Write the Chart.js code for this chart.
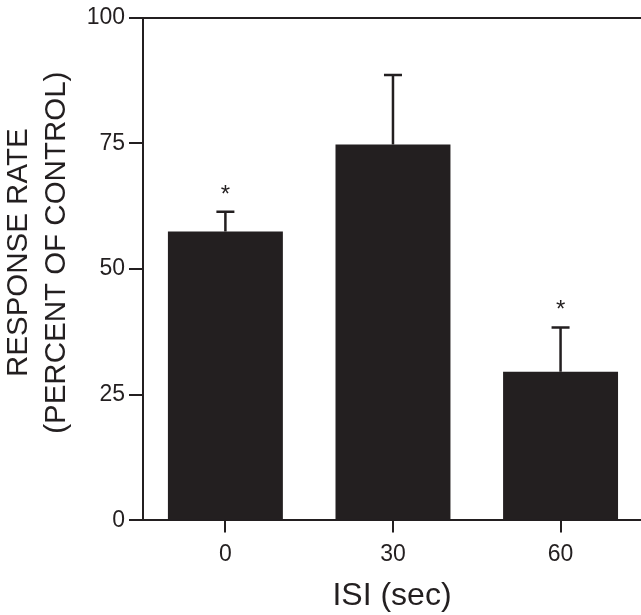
<!DOCTYPE html>
<html>
<head>
<meta charset="utf-8">
<script src="https://cdn.jsdelivr.net/npm/chart.js@4"></script>
<style>
  html, body { margin: 0; padding: 0; background: #ffffff; overflow: hidden; }
  canvas { display: block; }
</style>
</head>
<body>
<canvas id="c" width="641" height="615"></canvas>
<script>
// ---- data ----
const isiSeconds   = [0, 30, 60];            // x categories (ISI, sec)
const responseRate = [57.5, 74.8, 29.6];     // bar heights (% of control)
const errorTop     = [61.4, 88.6, 38.4];     // upper end of error bars
const significant  = [true, false, true];    // asterisk markers
const yTickValues  = [0, 25, 50, 75, 100];

const INK = '#231f20';
const FONT = '"Liberation Sans", Arial, Helvetica, sans-serif';

const errorBarPlugin = {
  id: 'errorBars',
  afterDatasetsDraw(chart) {
    const meta = chart.getDatasetMeta(0);
    const ys = chart.scales.y;
    const ctx = chart.ctx;
    ctx.save();
    ctx.strokeStyle = INK;
    ctx.fillStyle = INK;
    ctx.lineWidth = 2.5;
    meta.data.forEach((bar, i) => {
      const x = bar.x;
      const yTop = ys.getPixelForValue(errorTop[i]);
      const yBar = bar.y;
      ctx.beginPath();
      ctx.moveTo(x, yBar);
      ctx.lineTo(x, yTop);
      ctx.moveTo(x - 9, yTop);
      ctx.lineTo(x + 9, yTop);
      ctx.stroke();
      if (significant[i]) {
        ctx.font = '24px ' + FONT;
        ctx.textAlign = 'center';
        ctx.textBaseline = 'alphabetic';
        ctx.fillText('*', x, yTop - 10);
      }
    });
    ctx.restore();
  }
};

new Chart(document.getElementById('c'), {
  type: 'bar',
  data: {
    datasets: [{
      data: isiSeconds.map((v, i) => ({ x: v, y: responseRate[i] })),
      backgroundColor: INK,
      borderWidth: 0,
      barPercentage: 0.686,
      categoryPercentage: 1.0
    }]
  },
  options: {
    responsive: false,
    devicePixelRatio: 1,
    animation: false,
    layout: { padding: { top: 17.6, right: 0, bottom: 0, left: 0 } },
    plugins: {
      legend: { display: false },
      tooltip: { enabled: false }
    },
    scales: {
      x: {
        type: 'linear',
        offset: false,
        min: -14.75,
        max: 74.4,
        afterBuildTicks(scale) { scale.ticks = isiSeconds.map(v => ({ value: v })); },
        afterFit(scale) { scale.height = 94.6; },
        border: { display: true, color: INK, width: 2 },
        grid: {
          offset: false,
          drawOnChartArea: false,
          drawTicks: true,
          tickLength: 12,
          tickColor: INK,
          lineWidth: 2,
          color: INK
        },
        ticks: {
          color: INK,
          font: { family: FONT, size: 23 },
          padding: 8,
          maxRotation: 0,
          callback: (v) => String(v)
        },
        title: {
          display: true,
          text: 'ISI (sec)',
          color: INK,
          font: { family: FONT, size: 32 },
          padding: { top: 0, bottom: 0 }
        }
      },
      y: {
        min: 0,
        max: 100,
        afterBuildTicks(scale) { scale.ticks = yTickValues.map(v => ({ value: v })); },
        afterFit(scale) { scale.width = 143; },
        border: { display: true, color: INK, width: 2 },
        grid: {
          drawOnChartArea: true,
          drawTicks: true,
          tickLength: 14,
          tickColor: INK,
          lineWidth: 2,
          color: (c) => (c.tick && c.tick.value === 100 ? INK : 'rgba(0,0,0,0)')
        },
        ticks: {
          color: INK,
          font: { family: FONT, size: 23 },
          padding: 4,
          callback: (v) => String(v)
        },
        title: {
          display: true,
          text: ['    RESPONSE RATE', '    (PERCENT OF CONTROL)'],
          color: INK,
          font: { family: FONT, size: 29.5, lineHeight: 1.288 },
          padding: { top: 0, bottom: 0 }
        }
      }
    }
  },
  plugins: [errorBarPlugin]
});
</script>
</body>
</html>
